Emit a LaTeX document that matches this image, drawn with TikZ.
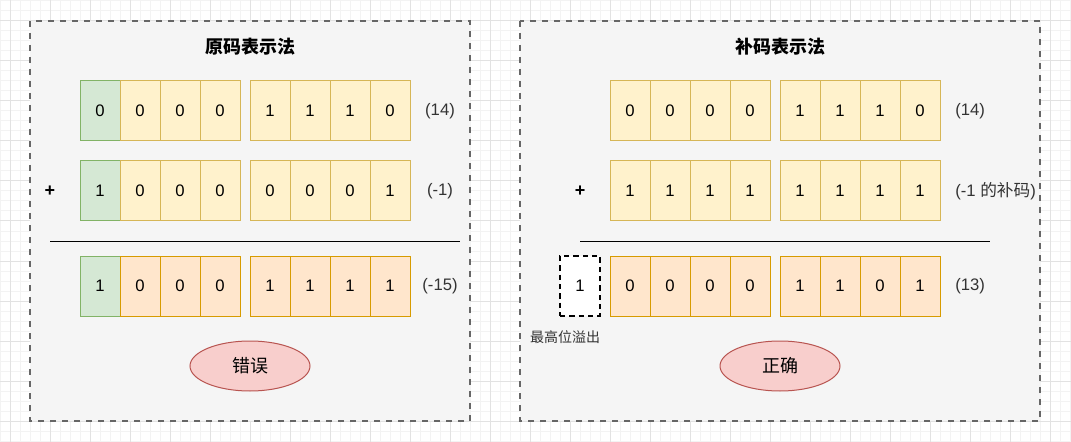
\documentclass[tikz,border=0pt]{standalone}
\usepackage{fontspec}
\setmainfont{Liberation Sans}
\newfontfamily\cjk{Noto Sans CJK SC}
\usetikzlibrary{shapes.geometric}
\definecolor{gfill}{HTML}{D5E8D4}
\definecolor{gline}{HTML}{82B366}
\definecolor{yfill}{HTML}{FFF2CC}
\definecolor{yline}{HTML}{D6B656}
\definecolor{ofill}{HTML}{FFE6CC}
\definecolor{oline}{HTML}{D79B00}
\definecolor{rfill}{HTML}{F8CECC}
\definecolor{rline}{HTML}{B85450}
\definecolor{pfill}{HTML}{F5F5F5}
\definecolor{pline}{HTML}{666666}
\definecolor{txtgray}{HTML}{333333}
\tikzset{
  cell/.style={draw, line width=0.75pt, minimum width=30pt, minimum height=45pt,
    inner sep=0pt, font=\fontsize{12.5}{14}\selectfont},
  gcell/.style={cell, fill=gfill, draw=gline},
  ycell/.style={cell, fill=yfill, draw=yline},
  ocell/.style={cell, fill=ofill, draw=oline},
  ovfbox/.style={cell, fill=white, draw=black, line width=1.5pt, dash pattern=on 4pt off 3pt},
  verdict/.style={ellipse, draw=rline, fill=rfill, line width=0.75pt, minimum width=90pt,
    minimum height=37.5pt, inner sep=0pt, font=\cjk\fontsize{13.5}{16}\selectfont},
  paneltitle/.style={inner sep=0pt, font=\cjk\bfseries\fontsize{13.5}{16}\selectfont},
  numlabel/.style={inner sep=0pt, text=txtgray, font=\fontsize{12.5}{14}\selectfont},
  plussign/.style={inner sep=0pt, font=\bfseries\fontsize{13.5}{16}\selectfont},
  panel/.style={draw=pline, fill=pfill, line width=1.5pt, dash pattern=on 4.5pt off 4.5pt},
  gridminor/.style={draw={rgb,255:red,243;green,243;blue,243}, line width=0.75pt},
  gridmajor/.style={draw={rgb,255:red,226;green,226;blue,226}, line width=0.75pt},
}
\begin{document}
\begin{tikzpicture}[x=0.75pt, y=-0.75pt]
\useasboundingbox (0,0) rectangle (1071,442);
\fill [white] (0,0) rectangle (1071,442);
% grid
\foreach \gx in {0,10,...,1070} \draw [gridminor] (\gx,0) -- (\gx,442);
\foreach \gy in {1,11,...,441} \draw [gridminor] (0,\gy) -- (1071,\gy);
\foreach \gx in {10,50,...,1050} \draw [gridmajor] (\gx,0) -- (\gx,442);
\foreach \gy in {21,61,...,421} \draw [gridmajor] (0,\gy) -- (1071,\gy);
% panels
\draw [panel] (30,21) rectangle (470,421);
\draw [panel] (520,21) rectangle (1040,421);
% left: sign-magnitude
\node [paneltitle] (ltitle) at (250,47) {原码表示法};
\node [gcell] (la1) at (100,111) {0};
\node [ycell] (la2) at (140,111) {0};
\node [ycell] (la3) at (180,111) {0};
\node [ycell] (la4) at (220,111) {0};
\node [ycell] (la5) at (270,111) {1};
\node [ycell] (la6) at (310,111) {1};
\node [ycell] (la7) at (350,111) {1};
\node [ycell] (la8) at (390,111) {0};
\node [numlabel] (lalab) at (440,111) {(14)};
\node [plussign] (lplus) at (50,191) {+};
\node [gcell] (lb1) at (100,191) {1};
\node [ycell] (lb2) at (140,191) {0};
\node [ycell] (lb3) at (180,191) {0};
\node [ycell] (lb4) at (220,191) {0};
\node [ycell] (lb5) at (270,191) {0};
\node [ycell] (lb6) at (310,191) {0};
\node [ycell] (lb7) at (350,191) {0};
\node [ycell] (lb8) at (390,191) {1};
\node [numlabel] (lblab) at (440,191) {(-1)};
\draw [line width=0.75pt] (50,241) -- (460,241);
\node [gcell] (lc1) at (100,286) {1};
\node [ocell] (lc2) at (140,286) {0};
\node [ocell] (lc3) at (180,286) {0};
\node [ocell] (lc4) at (220,286) {0};
\node [ocell] (lc5) at (270,286) {1};
\node [ocell] (lc6) at (310,286) {1};
\node [ocell] (lc7) at (350,286) {1};
\node [ocell] (lc8) at (390,286) {1};
\node [numlabel] (lclab) at (440,286) {(-15)};
\node [verdict] (lwrong) at (250,366) {错误};
% right: two's complement
\node [paneltitle] (rtitle) at (780,47) {补码表示法};
\node [ycell] (ra1) at (630,111) {0};
\node [ycell] (ra2) at (670,111) {0};
\node [ycell] (ra3) at (710,111) {0};
\node [ycell] (ra4) at (750,111) {0};
\node [ycell] (ra5) at (800,111) {1};
\node [ycell] (ra6) at (840,111) {1};
\node [ycell] (ra7) at (880,111) {1};
\node [ycell] (ra8) at (920,111) {0};
\node [numlabel, anchor=west] (ralab) at (955,111) {(14)};
\node [plussign] (rplus) at (580,191) {+};
\node [ycell] (rb1) at (630,191) {1};
\node [ycell] (rb2) at (670,191) {1};
\node [ycell] (rb3) at (710,191) {1};
\node [ycell] (rb4) at (750,191) {1};
\node [ycell] (rb5) at (800,191) {1};
\node [ycell] (rb6) at (840,191) {1};
\node [ycell] (rb7) at (880,191) {1};
\node [ycell] (rb8) at (920,191) {1};
\node [numlabel, anchor=west] (rblab) at (955,191) {(-1 {\cjk 的补码})};
\draw [line width=0.75pt] (580,241) -- (990,241);
\node [ovfbox] (rovf) at (580,286) {1};
\node [numlabel, font=\cjk\fontsize{10.5}{12}\selectfont] (rovflab) at (565,337) {最高位溢出};
\node [ocell] (rc1) at (630,286) {0};
\node [ocell] (rc2) at (670,286) {0};
\node [ocell] (rc3) at (710,286) {0};
\node [ocell] (rc4) at (750,286) {0};
\node [ocell] (rc5) at (800,286) {1};
\node [ocell] (rc6) at (840,286) {1};
\node [ocell] (rc7) at (880,286) {0};
\node [ocell] (rc8) at (920,286) {1};
\node [numlabel, anchor=west] (rclab) at (955,286) {(13)};
\node [verdict] (rright) at (780,366) {正确};
\end{tikzpicture}
\end{document}
